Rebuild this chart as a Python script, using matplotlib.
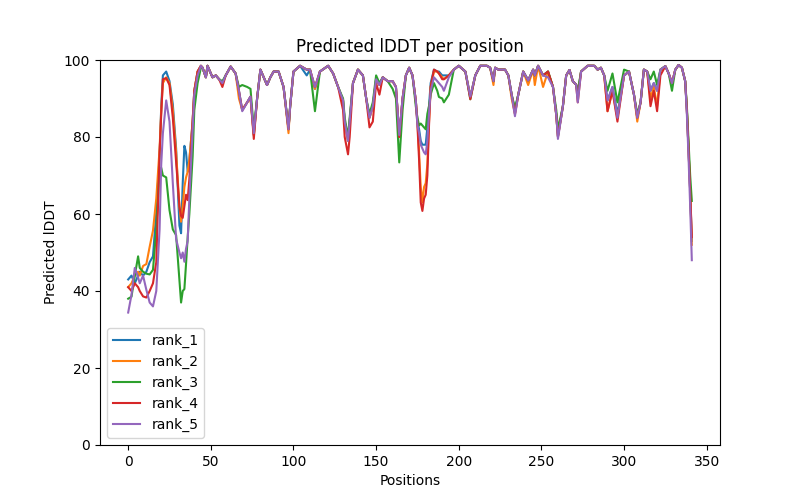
import matplotlib
matplotlib.use("Agg")
import matplotlib.pyplot as plt

positions = [
    0, 2, 4, 6, 7, 9, 11, 13, 15, 17,
    19, 20, 21, 23, 25, 27, 29, 31, 32, 33,
    34, 35, 36, 37, 39, 40, 42, 44, 45, 47,
    48, 51, 53, 55, 57, 59, 62, 65, 67, 69,
    72, 74, 76, 78, 80, 82, 84, 86, 88, 91,
    94, 97, 98, 100, 104, 108, 110, 113, 116, 121,
    124, 127, 130, 131, 133, 134, 136, 139, 142, 144,
    146, 148, 150, 152, 154, 157, 160, 162, 164, 166,
    168, 170, 172, 174, 175, 176, 177, 178, 179, 180,
    181, 182, 183, 185, 187, 188, 190, 191, 194, 197,
    200, 204, 207, 210, 213, 217, 219, 221, 222, 224,
    228, 230, 232, 234, 236, 239, 242, 245, 246, 248,
    251, 254, 257, 259, 260, 263, 265, 267, 269, 271,
    272, 274, 278, 282, 284, 286, 288, 290, 293, 296,
    300, 303, 306, 308, 310, 312, 314, 316, 318, 320,
    322, 325, 327, 329, 331, 333, 335, 337, 338, 339,
    340, 341,
]

rank_1 = [
    43, 44, 42, 44, 45, 44, 45, 47.5, 49, 60.5,
    75, 88, 96, 97, 94.5, 88.5, 77, 57, 55, 68,
    77.7, 76, 71, 74, 84, 92, 97, 98.5, 98, 95.5,
    98.5, 95.5, 96, 95, 94, 96, 98.3, 96.5, 92, 87,
    89, 90.5, 80.5, 90, 97.5, 95.5, 93.5, 95.5, 97, 97,
    93, 82, 88, 97, 98.5, 96, 97.5, 92.5, 97, 98.5,
    96.5, 93, 89.5, 84, 79, 84, 94, 97.5, 96, 90,
    85, 88, 95, 93.5, 95.5, 94.5, 94.5, 93, 80, 90,
    96, 98, 96, 89.5, 84, 82, 79, 78, 78, 78,
    82.5, 88, 94, 97.5, 97, 97, 96, 96, 96, 97.5,
    98.5, 97, 90.5, 96, 98.5, 98.5, 98, 94.5, 98, 97.5,
    97.5, 96, 91, 87, 91, 97, 94.7, 97.5, 96, 98.5,
    96, 97, 93, 85.7, 80.2, 88, 96, 97.4, 94.5, 93.6,
    91, 97, 98.5, 98.5, 97.5, 98, 96, 89.5, 93, 86,
    96, 97, 91, 85, 89, 97.5, 97, 92, 94, 92,
    97.5, 98.4, 96.5, 94, 97.5, 98.7, 98, 94.5, 87, 77,
    66, 53,
]

rank_2 = [
    41, 42, 44, 45, 44, 46.5, 47, 51.5, 55.7, 64,
    77, 87, 94, 95.5, 94, 87, 76, 62, 58, 62,
    67, 69.5, 71, 74, 84, 92, 97, 98.5, 98, 95.5,
    98.5, 95.5, 96, 95, 94, 96, 98.3, 96.5, 90, 87,
    89, 90, 80.5, 90, 97.5, 95.5, 93.5, 95.5, 97, 97,
    93, 81, 88, 97, 98.5, 97.5, 97.5, 92.5, 97, 98.5,
    96.5, 93, 89.5, 84, 79, 84, 94, 97.5, 96, 90,
    85, 88, 95, 93.5, 95.5, 94.5, 94.5, 93, 80, 90,
    96, 98, 96, 89.5, 84, 76, 67, 63, 67, 68,
    73, 84, 93, 97, 97, 96.5, 95.5, 95, 96, 97.5,
    98.5, 97, 90.5, 96, 98.5, 98.5, 98, 93.5, 98, 97.5,
    97.5, 96, 90, 86, 91, 97, 93.5, 97.5, 93.5, 98.5,
    93, 97, 93, 85.7, 80.2, 88, 96, 97.4, 94.5, 93.6,
    91, 97, 98.5, 98.5, 97.5, 98, 96, 86.7, 92, 85,
    96, 97, 91, 84, 89, 97.5, 97, 90, 93, 88,
    97.5, 98.4, 96.5, 94, 97.5, 98.7, 98, 94.5, 87, 77,
    66, 52,
]

rank_3 = [
    38, 38.5, 44, 49, 46, 45, 44.5, 44.3, 45.5, 56,
    71.5, 72, 70, 69.5, 61, 56, 54.5, 43, 37, 40,
    40.5, 47, 54, 60, 75, 87, 94, 98, 98, 95.5,
    98.5, 95.5, 96, 95, 94.5, 96, 98.3, 96.5, 93, 93.5,
    93, 92.5, 82, 90, 97.5, 95.5, 93.5, 95.5, 97, 97,
    93, 82.5, 88, 97, 98.5, 97.5, 97.5, 86.7, 97, 98.5,
    96.5, 93, 90, 85, 80, 85, 94, 97.5, 96, 90,
    86, 89, 96, 94, 95.5, 94.5, 92.5, 90, 73.4, 87,
    96, 98, 96, 88, 85, 83, 83.5, 83, 82.5, 82,
    86, 88, 91, 94, 92, 90.4, 90, 89, 91, 97.5,
    98.5, 97, 89.8, 96, 98.5, 98.5, 98, 94.5, 98, 97.5,
    97.5, 96, 91, 87.5, 91, 97, 94.7, 97.5, 96, 98.5,
    96, 97, 93, 87, 82, 88, 96, 97.4, 94.5, 93.6,
    92, 97, 98.5, 98.5, 97.5, 98, 96, 92, 96.5, 89,
    97.5, 97, 91, 86, 89, 97.5, 97, 95, 97, 93.5,
    97.5, 98.4, 96.5, 92, 97.5, 98.7, 98, 94.5, 88, 79,
    70, 63.4,
]

rank_4 = [
    41, 40, 42, 41, 40, 38.6, 38.3, 40, 42, 47.5,
    76, 86, 95, 95.3, 93.5, 85, 73.5, 62, 59.5, 59,
    62, 65, 63.6, 69, 84, 92, 97, 98.5, 98, 95.5,
    98.5, 95.5, 96, 95, 93, 96, 98.3, 96.5, 92, 87,
    89, 90.5, 79.5, 90, 97.5, 95.5, 93.5, 95.5, 97, 97,
    93, 82, 88, 97, 98.5, 97.5, 97.5, 93, 97, 98.5,
    96.5, 93, 87, 80, 75.5, 80, 94, 97.5, 96, 90,
    82.5, 84, 94, 91, 95.5, 94.5, 94.5, 93, 80, 90,
    96, 98, 96, 89.5, 83, 74, 63, 60.8, 64, 65,
    70, 83, 93, 97.5, 97, 96.5, 95, 95, 96, 97.5,
    98.5, 97, 89.8, 96, 98.5, 98.5, 98, 94.5, 98, 97.5,
    97.5, 96, 91, 86, 91, 97, 94.7, 97.5, 96, 98.5,
    96, 97, 93, 85.7, 80, 88, 96, 97.4, 94.5, 93.6,
    89, 97, 98.5, 98.5, 97.5, 98, 96, 86.7, 92, 84,
    96, 97, 91, 85, 89, 97.5, 97, 88, 92, 86.7,
    96, 98.4, 96.5, 94, 97.5, 98.7, 98, 94.5, 87, 77,
    66, 54,
]

rank_5 = [
    34.4, 39, 46, 43.5, 42, 44, 40.3, 37, 36, 40,
    56, 73, 81, 89.5, 84, 68, 53.5, 50, 48.5, 50,
    47.6, 51, 53, 64, 82, 91, 96, 98.5, 98, 95.5,
    98.5, 95.5, 96, 95, 94, 96, 98.3, 96.5, 92, 86.7,
    89, 90.5, 81, 90, 97.5, 95.5, 93.5, 95.5, 97, 97,
    93, 82, 88, 97, 98.5, 97.5, 97.5, 93, 97, 98.5,
    96.5, 93, 89.5, 84, 79, 84, 94, 97.5, 96, 90,
    85, 88, 95, 93.5, 95.5, 94.5, 94.5, 93, 80.5, 90,
    96, 98, 96, 89.5, 83, 81, 78, 77, 76, 75.5,
    79, 86, 92, 95.5, 94.5, 94, 93, 92, 95.5, 97.5,
    98.5, 97, 90.5, 96, 98.5, 98.5, 98, 94.5, 98, 97.5,
    97.5, 96, 91, 85.4, 91, 97, 94.7, 97.5, 96, 98.5,
    96, 95.5, 93, 85.7, 79.5, 88, 96, 97.4, 94.5, 93.6,
    89, 97, 98.5, 98.5, 97.5, 98, 96, 89.5, 93, 85,
    96, 97, 91, 85, 89, 97.5, 97, 92, 94, 92,
    97.5, 98.4, 96.5, 94, 97.5, 98.7, 98, 94.5, 86, 75,
    62, 48,
]

ranks = {"rank_1": rank_1, "rank_2": rank_2, "rank_3": rank_3,
         "rank_4": rank_4, "rank_5": rank_5}

fig, ax = plt.subplots(figsize=(8, 5), dpi=100)
for name, values in ranks.items():
    ax.plot(positions, values, label=name)

ax.set_title("Predicted lDDT per position")
ax.set_xlabel("Positions")
ax.set_ylabel("Predicted lDDT")
ax.set_ylim(0, 100)
ax.legend(loc="lower left")

plt.savefig("out.png")
